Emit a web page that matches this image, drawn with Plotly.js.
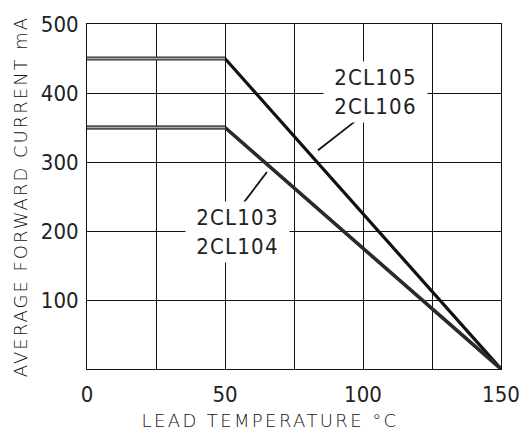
<!DOCTYPE html>
<html>
<head>
<meta charset="utf-8">
<script src="https://cdn.plot.ly/plotly-3.0.1.min.js"></script>
<style>
html,body{margin:0;padding:0;background:#fff;}
#chart{width:525px;height:431px;}
.ytitle{letter-spacing:2px;}
.xtitle{letter-spacing:2.4px; transform: translate(-24px, 2px);}
.annotation-text{letter-spacing:1.2px;}
</style>
</head>
<body>
<div id="chart"></div>
<script>
// Data
const temperature = [0, 50, 150];
const current105_106 = [450, 450, 0];
const current103_104 = [350, 350, 0];
const flatTemp = [0, 50];
const flat105_106 = [450, 450];
const flat103_104 = [350, 350];

const xGridVals = [0, 25, 50, 75, 100, 125, 150];
const xGridText = ['0', '', '50', '', '100', '', '150'];
const yTickVals = [100, 200, 300, 400, 500];
const yTickText = ['100', '200', '300', '400', '500'];

const labelNames = ['2CL105<br>2CL106', '2CL103<br>2CL104'];
const labelX = [104.7, 54.7];
const labelY = [401, 198.5];
const leaderX0 = [97.8, 56.2];
const leaderY0 = [361, 238];
const leaderX1 = [83.7, 65.2];
const leaderY1 = [317, 285.5];

const tickFont = {family: 'DejaVu Sans ExtraLight, DejaVu Sans Condensed', size: 22, color: '#222', weight: 200};
const titleFont = {family: 'DejaVu Sans ExtraLight, DejaVu Sans', size: 18, color: '#111', weight: 200};

const traces = [
  {x: temperature, y: current105_106, mode: 'lines', line: {color: '#111', width: 3.2}, hoverinfo: 'none', showlegend: false},
  {x: temperature, y: current103_104, mode: 'lines', line: {color: '#2a2a2a', width: 3.6}, hoverinfo: 'none', showlegend: false},
  {x: flatTemp, y: flat105_106, mode: 'lines', line: {color: '#333', width: 4}, hoverinfo: 'none', showlegend: false},
  {x: flatTemp, y: flat103_104, mode: 'lines', line: {color: '#333', width: 4}, hoverinfo: 'none', showlegend: false},
  {x: flatTemp, y: flat105_106, mode: 'lines', line: {color: '#aaa', width: 1.3}, hoverinfo: 'none', showlegend: false},
  {x: flatTemp, y: flat103_104, mode: 'lines', line: {color: '#aaa', width: 1.3}, hoverinfo: 'none', showlegend: false}
];

const annotations = labelNames.map((t, i) => ({
  x: labelX[i], y: labelY[i], xref: 'x', yref: 'y', text: t, showarrow: false,
  font: tickFont, bgcolor: '#fff', width: 101, height: 58, borderpad: 1, align: 'center'
}));

const shapes = leaderX0.map((x0, i) => ({
  type: 'line', xref: 'x', yref: 'y', x0: x0, y0: leaderY0[i], x1: leaderX1[i], y1: leaderY1[i],
  line: {color: '#111', width: 1.8}, layer: 'above'
}));

const layout = {
  width: 525, height: 431,
  margin: {l: 87, r: 24, t: 24, b: 62},
  paper_bgcolor: '#fff', plot_bgcolor: '#fff',
  xaxis: {
    range: [0, 150], tickmode: 'array', tickvals: xGridVals, ticktext: xGridText,
    showgrid: true, gridcolor: '#111', gridwidth: 1, zeroline: false,
    showline: true, linecolor: '#111', linewidth: 1, mirror: true,
    ticks: '', tickfont: tickFont, ticklabelstandoff: 6,
    title: {text: 'LEAD TEMPERATURE °C', font: titleFont, standoff: 8}
  },
  yaxis: {
    range: [0, 500], tickmode: 'array', tickvals: yTickVals, ticktext: yTickText,
    showgrid: true, gridcolor: '#111', gridwidth: 1, zeroline: false,
    showline: true, linecolor: '#111', linewidth: 1, mirror: true,
    ticks: '', tickfont: tickFont, ticklabelstandoff: 3,
    title: {text: 'AVERAGE FORWARD CURRENT mA', font: titleFont, standoff: 8}
  },
  annotations: annotations,
  shapes: shapes
};

Plotly.newPlot('chart', traces, layout, {staticPlot: true, displayModeBar: false});
</script>
</body>
</html>
